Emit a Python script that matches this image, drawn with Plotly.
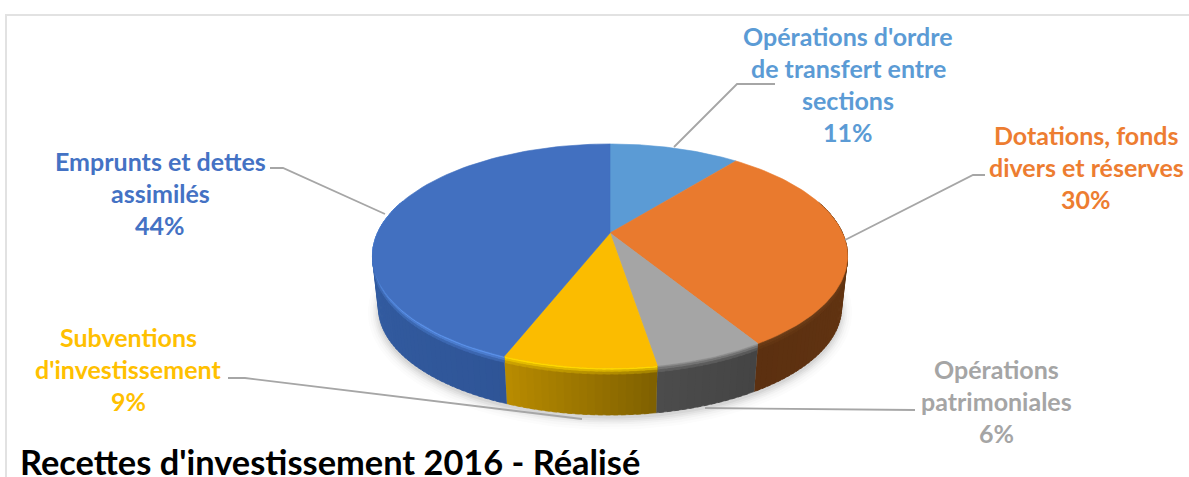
import numpy as np
import plotly.graph_objects as go

# --- data -------------------------------------------------------------
categories = ["Opérations d'ordre de transfert entre sections",
              "Dotations, fonds divers et réserves",
              "Opérations patrimoniales",
              "Subventions d'investissement",
              "Emprunts et dettes assimilés"]
values = [10.8, 30.4, 6.2, 8.6, 44.0]
title_text = "Recettes d'investissement 2016 - Réalisé"

# --- style ------------------------------------------------------------
top_colors = ["#5B9BD5", "#E97A2E", "#A5A5A5", "#FBBC00", "#4270C0"]
label_colors = ["#5B9BD5", "#ED7D31", "#A5A5A5", "#FFC000", "#4472C4"]
side_from = ["#3F6E97", "#6A3A14", "#444444", "#7F6000", "#2F5597"]
side_to = ["#3F6E97", "#5C3010", "#4C4C4C", "#B98C00", "#3A69B4"]
bevel = ["#5B9BD5", "#70401A", "#8A8A8A", "#FFD800", "#5A90E8"]
FONT = "Lato, 'Open Sans', sans-serif"
CX, CY, R, C, K = 610.0, 233.0, 232.5, 107.3, 0.205
DEPTH, SX, SY = 52.4, 0.975, 0.96


def rim(theta, t=0.0, grow=1.0):
    """theta clockwise from 12 o'clock; t=0 top plane, t=1 bottom plane."""
    u, v = np.sin(theta) * grow, np.cos(theta) * grow
    s = 1 / (1 + K * v)
    x, y = R * u * s, -C * v * s
    sx = 1 + (SX - 1) * t
    sy = 1 + (SY - 1) * t
    return CX + x * sx, CY + y * sy + DEPTH * t


def hex2rgb(h):
    return np.array([int(h[i:i + 2], 16) for i in (1, 3, 5)], float)


def mix(a, b, f):
    c = hex2rgb(a) * (1 - f) + hex2rgb(b) * f
    return "#%02X%02X%02X" % tuple(int(round(q)) for q in c)


fig = go.Figure()


def poly(x, y, color):
    fig.add_trace(go.Scatter(x=x, y=y, mode="lines", fill="toself", fillcolor=color,
                             line=dict(color=color, width=0.6), hoverinfo="skip",
                             showlegend=False))


# soft shadow under the disc
ang = np.linspace(0, 2 * np.pi, 181)
for g, alpha in zip([1.09, 1.07, 1.05, 1.035, 1.02, 1.005], [.015, .025, .035, .05, .06, .08]):
    x, y = rim(ang, 1.0, 1.0)
    x = CX + (x - CX) * (g * 0.5 + 0.5)
    y = (CY + DEPTH + 3) + (y - CY - DEPTH) * g
    fig.add_trace(go.Scatter(x=x, y=y, mode="lines", fill="toself",
                             fillcolor=f"rgba(90,90,90,{alpha})", line=dict(width=0),
                             hoverinfo="skip", showlegend=False))

edges = np.cumsum([0] + values) / sum(values) * 2 * np.pi

# side wall, drawn in strips per slice; each strip overlaps the next to hide seams
for i in range(len(values)):
    a0, a1 = edges[i], edges[i + 1]
    n = max(2, int((a1 - a0) / np.radians(1.5)))
    grid = np.linspace(a0, a1, n + 1)
    step = grid[1] - grid[0]
    bands = [(0, .045, 1.0), (.045, .09, .65), (.09, .13, .3)]
    for d0, d1, w in [(0, 1, 0)] + bands:
        for j in range(n):
            t0, t1 = grid[j], grid[j + 1]
            if np.cos((t0 + t1) / 2) > 0.3:
                continue
            th = np.linspace(t0, min(t1 + step * .6, a1), 3)
            col = mix(side_from[i], side_to[i], (j + .5) / n)
            xa, ya = rim(th, d0)
            xb, yb = rim(th[::-1], d1)
            poly(np.r_[xa, xb], np.r_[ya, yb], mix(col, bevel[i], w))

# top faces
for i in range(len(values)):
    th = np.linspace(edges[i], edges[i + 1], 80)
    x, y = rim(th)
    poly(np.r_[CX, x, CX], np.r_[CY, y, CY], top_colors[i])

# leader lines (layout, not data)
leaders = [
    ([674, 737, 775], [147, 84, 84]),
    ([845, 973, 985], [240, 175, 175]),
    ([705, 915], [408, 410]),
    ([228, 245, 582], [378, 378, 419]),
    ([385, 283, 270], [214, 168, 168]),
]
for lx, ly in leaders:
    fig.add_trace(go.Scatter(x=lx, y=ly, mode="lines", line=dict(color="#A6A6A6", width=1.8),
                             hoverinfo="skip", showlegend=False))

# frame
fig.add_shape(type="line", x0=5, x1=1189, y0=15, y1=15, line=dict(color="#E2E2E2", width=2))
fig.add_shape(type="line", x0=6, x1=6, y0=15, y1=477, line=dict(color="#E2E2E2", width=2))

# labels
label_lines = [
    ["Opérations d'ordre", "de transfert entre", "sections"],
    ["Dotations, fonds", "divers et réserves"],
    ["Opérations", "patrimoniales"],
    ["Subventions", "d'investissement"],
    ["Emprunts et dettes", "assimilés"],
]
label_pos = [(848, 36), (1086, 135), (996, 369), (128, 337), (160, 161)]
for i, lines in enumerate(label_lines):
    lx, ly = label_pos[i]
    for j, t in enumerate(lines + [f"{values[i]:.0f}%"]):
        fig.add_annotation(x=lx, y=ly + j * 32, text=t, showarrow=False, xanchor="center",
                           yanchor="middle",
                           font=dict(family=FONT, size=25, color=label_colors[i], weight="bold"))

fig.add_annotation(x=18, y=461, text=title_text, showarrow=False, xanchor="left", yanchor="middle",
                   font=dict(family=FONT, size=34.4, color="#000000", weight="bold"))

fig.update_layout(
    width=1189, height=477, margin=dict(l=0, r=0, t=0, b=0),
    paper_bgcolor="white", plot_bgcolor="white", showlegend=False,
    xaxis=dict(range=[0, 1189], visible=False, fixedrange=True),
    yaxis=dict(range=[477, 0], visible=False, fixedrange=True),
)
fig.write_html("out.html", config=dict(displayModeBar=False),
               post_script="document.body.style.margin='0';document.body.style.overflow='hidden';")
